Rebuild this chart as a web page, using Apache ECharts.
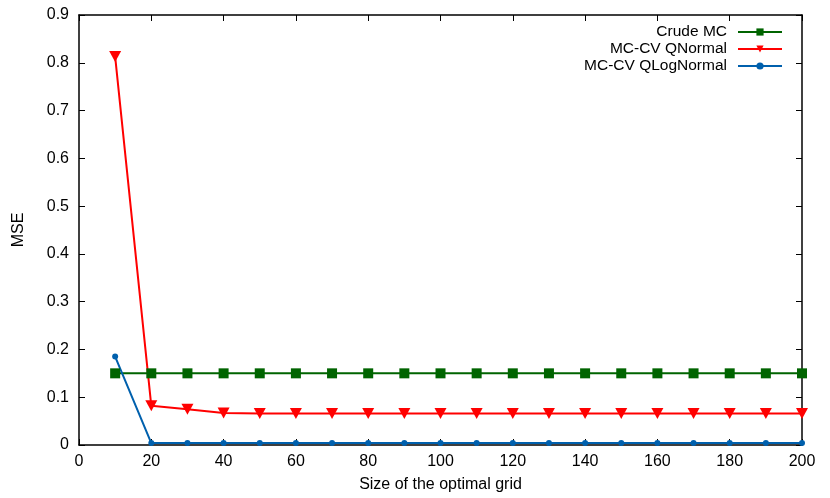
<!DOCTYPE html>
<html><head><meta charset="utf-8">
<script src="https://cdn.jsdelivr.net/npm/echarts@6/dist/echarts.min.js"></script>
<style>html,body{margin:0;padding:0;background:#fff}#c{width:830px;height:498px}</style>
</head><body><div id="c"></div>
<script>
const gridSizes = [10,20,30,40,50,60,70,80,90,100,110,120,130,140,150,160,170,180,190,200];
const crudeMC = [0.15,0.15,0.15,0.15,0.15,0.15,0.15,0.15,0.15,0.15,0.15,0.15,0.15,0.15,0.15,0.15,0.15,0.15,0.15,0.15];
const qNormal = [0.813,0.082,0.075,0.067,0.066,0.066,0.066,0.066,0.066,0.066,0.066,0.066,0.066,0.066,0.066,0.066,0.066,0.066,0.066,0.066];
const qLogNormal = [0.185,0.004,0.004,0.004,0.004,0.004,0.004,0.004,0.004,0.004,0.004,0.004,0.004,0.004,0.004,0.004,0.004,0.004,0.004,0.004];
const seriesNames = ['Crude MC','MC-CV QNormal','MC-CV QLogNormal'];
const xTitle = 'Size of the optimal grid';
const yTitle = 'MSE';

const pair = (ys) => gridSizes.map((x,i)=>[x,ys[i]]);
const font = 'Liberation Sans, Arial, sans-serif';
const axisLine = {show:true, onZero:false, lineStyle:{color:'#000', width:1.5}};
const tickIn = {show:true, inside:true, length:6, lineStyle:{color:'#000', width:1}};

const chart = echarts.init(document.getElementById('c'), null, {renderer:'canvas'});
chart.setOption({
  animation:false,
  backgroundColor:'#fff',
  grid:{left:79, right:28, top:15, bottom:52},
  legend:{
    orient:'vertical', right:42, top:19, align:'right',
    itemWidth:44, itemHeight:9, itemGap:1,
    textStyle:{fontFamily:font, fontSize:15.5, color:'#000', lineHeight:16, padding:[0,6,0,0]},
    data:seriesNames
  },
  xAxis:[{
    type:'value', min:0, max:200, interval:20,
    name:xTitle, nameLocation:'middle', nameGap:32,
    nameTextStyle:{fontFamily:font, fontSize:16, color:'#000'},
    axisLine:axisLine, axisTick:tickIn, splitLine:{show:false},
    axisLabel:{fontFamily:font, fontSize:16, color:'#000', margin:9}
  },{
    type:'value', min:0, max:200, interval:20, position:'top',
    axisLine:axisLine, axisTick:tickIn, splitLine:{show:false}, axisLabel:{show:false}
  }],
  yAxis:[{
    type:'value', min:0, max:0.9, interval:0.1,
    name:yTitle, nameLocation:'middle', nameGap:52, nameRotate:90,
    nameTextStyle:{fontFamily:font, fontSize:16, color:'#000'},
    axisLine:axisLine, axisTick:tickIn, splitLine:{show:false},
    axisLabel:{fontFamily:font, fontSize:16, color:'#000', margin:10,
      formatter:v=>String(Math.round(v*10)/10)}
  },{
    type:'value', min:0, max:0.9, interval:0.1, position:'right',
    axisLine:axisLine, axisTick:tickIn, splitLine:{show:false}, axisLabel:{show:false}
  }],
  series:[
    {name:seriesNames[0], type:'line', data:pair(crudeMC), color:'#006400',
     symbol:'rect', symbolSize:10, lineStyle:{width:2}, itemStyle:{color:'#006400'}},
    {name:seriesNames[1], type:'line', data:pair(qNormal), color:'#ff0000',
     symbol:'triangle', symbolRotate:180, symbolSize:[12,11], lineStyle:{width:2}, itemStyle:{color:'#ff0000'}},
    {name:seriesNames[2], type:'line', data:pair(qLogNormal), color:'#0060ad',
     symbol:'circle', symbolSize:6, lineStyle:{width:2}, itemStyle:{color:'#0060ad'}}
  ]
});
</script></body></html>
